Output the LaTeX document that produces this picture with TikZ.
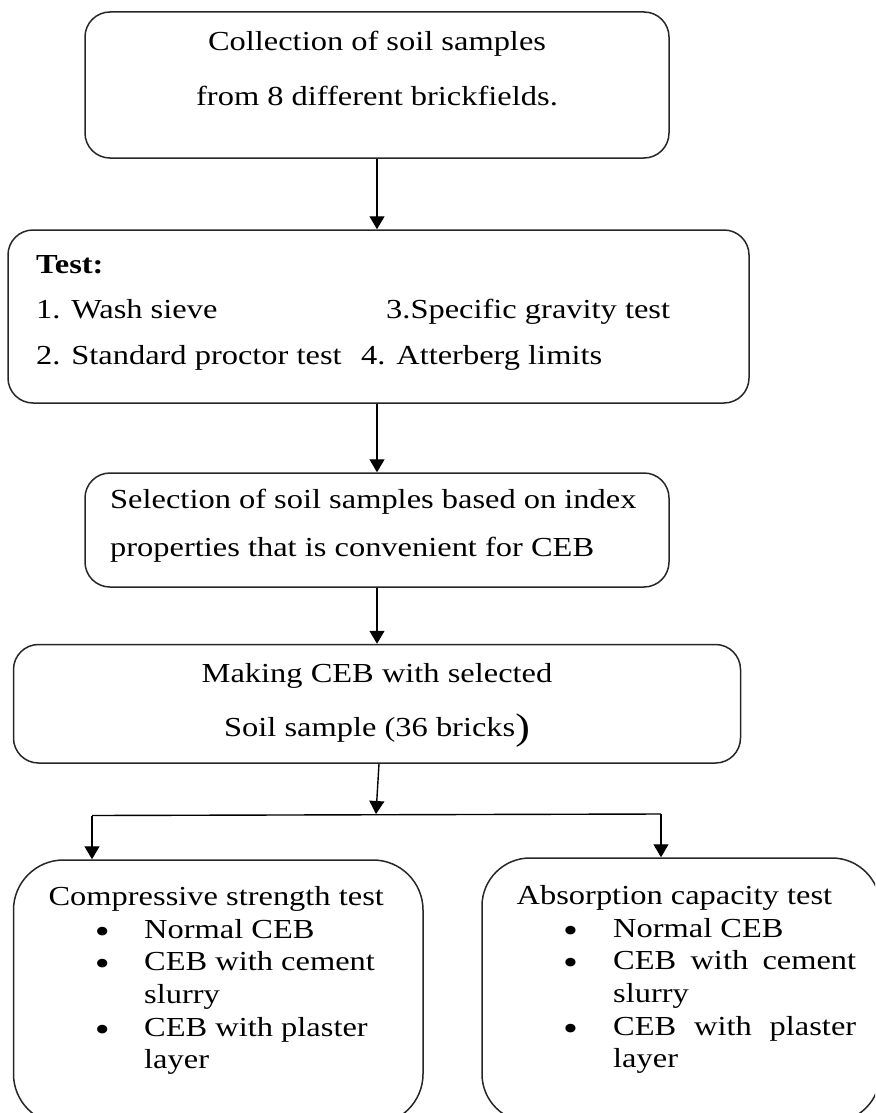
\documentclass[tikz,border=0pt]{standalone}
\usepackage{fontspec}
\setmainfont{Liberation Serif}[FakeStretch=1.18]
\usetikzlibrary{arrows.meta}
\newcommand{\dgfont}{\fontsize{27.5}{33}\selectfont}
\newcommand{\bulfont}{\fontsize{36}{36}\selectfont}
\newcommand{\bigparen}{{\fontsize{37}{37}\selectfont\raisebox{-3pt}{)}}}
\tikzset{
  box/.style={draw=black!85, line width=1.5pt, rounded corners=25pt, inner sep=0pt},
  ltxt/.style={inner sep=0pt, anchor=base west, font=\dgfont},
  ctxt/.style={inner sep=0pt, anchor=base, font=\dgfont},
  bul/.style={inner sep=0pt, anchor=base, font=\bulfont, yshift=-5pt},
  conn/.style={draw=black, line width=1.4pt},
  arr/.style={conn, -{Triangle[length=13pt,width=15pt]}}
}
\begin{document}
\begin{tikzpicture}[x=1pt,y=-1pt]
\useasboundingbox (0,0) rectangle (875,1113);
\clip (0,0) rectangle (875,1113);
% box 1
\node[box, minimum width=584pt, minimum height=146pt] (b1) at (377,85) {};
\node[ctxt] (t1a) at (377,51) {Collection of soil samples};
\node[ctxt] (t1b) at (377,106) {from 8 different brickfields.};
% box 2
\node[box, minimum width=741pt, minimum height=173pt] (b2) at (378.5,316.5) {};
\node[ltxt] (t2a) at (36,273) {\bfseries Test:};
\node[ltxt] (t2b) at (36,318) {1. Wash sieve};
\node[ltxt] (t2c) at (386,318) {3.Specific gravity test};
\node[ltxt] (t2d) at (36,364) {2. Standard proctor test};
\node[ltxt] (t2e) at (361,364) {4. Atterberg limits};
% box 3
\node[box, minimum width=584pt, minimum height=114pt] (b3) at (377,530) {};
\node[ltxt] (t3a) at (110,508) {Selection of soil samples based on index};
\node[ltxt] (t3b) at (110,556) {properties that is convenient for CEB};
% box 4
\node[box, minimum width=727pt, minimum height=118.5pt] (b4) at (377,703.75) {};
\node[ctxt] (t4a) at (377,682) {Making CEB with selected};
\node[ctxt] (t4b) at (377,736) {Soil sample (36 bricks\bigparen};
% box 5
\node[box, rounded corners=50pt, minimum width=409.5pt, minimum height=264pt] (b5) at (218.25,992) {};
\node[ltxt] (t5) at (48.4,905) {Compressive strength test};
\node[bul] (u51) at (102.4,938) {•};
\node[ltxt] (v51) at (144,938) {Normal CEB};
\node[bul] (u52) at (102.4,970.7) {•};
\node[ltxt] (v52) at (144,970.7) {CEB with cement};
\node[ltxt] (v53) at (144,1003.4) {slurry};
\node[bul] (u54) at (102.4,1036.1) {•};
\node[ltxt] (v54) at (144,1036.1) {CEB with plaster};
\node[ltxt] (v55) at (144,1068.8) {layer};
% box 6
\node[box, rounded corners=48pt, minimum width=398pt, minimum height=264pt] (b6) at (681,990) {};
\node[ltxt] (t6) at (516.5,904) {Absorption capacity test};
\node[bul] (u61) at (570.5,937) {•};
\node[ltxt] (v61) at (613,937) {Normal CEB};
\node[bul] (u62) at (570.5,969.7) {•};
\node[ltxt] (v62) at (613,969.7) {\makebox[243pt][s]{CEB with cement}};
\node[ltxt] (v63) at (613,1002.4) {slurry};
\node[bul] (u64) at (570.5,1035.1) {•};
\node[ltxt] (v64) at (613,1035.1) {\makebox[243pt][s]{CEB with plaster}};
\node[ltxt] (v65) at (613,1067.8) {layer};
% connectors
\draw[arr] (b1.south) -- (b1.south |- b2.north);
\draw[arr] (b2.south -| b3.north) -- (b3.north);
\draw[arr] (b3.south) -- (b3.south |- b4.north);
\coordinate (j) at (376,814);
\coordinate (jl) at (92,815.5);
\coordinate (jr) at (661,814);
\draw[arr] ([xshift=2pt]b4.south) -- (j);
\draw[conn] (jl) -- (jr);
\draw[arr] (jl) -- (jl |- b5.north);
\draw[arr] (jr) -- (jr |- b6.north);
\end{tikzpicture}
\end{document}
